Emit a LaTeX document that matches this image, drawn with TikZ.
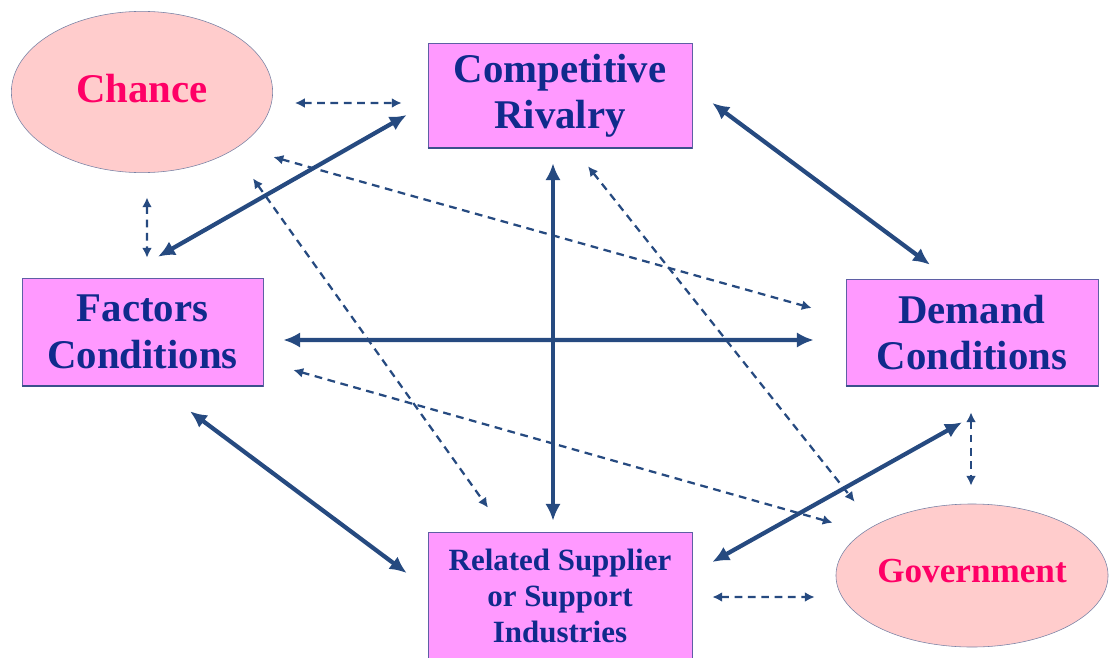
\documentclass[tikz,border=0pt]{standalone}
\usepackage{fontspec}
\setmainfont{Liberation Serif}
\usepackage{xcolor}
\usepackage{tikz}
\usetikzlibrary{shapes.geometric,arrows.meta}

\definecolor{boxfill}{RGB}{255,153,255}
\definecolor{boxline}{RGB}{95,95,165}
\definecolor{boxedge}{RGB}{60,80,140}
\definecolor{ovalfill}{RGB}{255,204,204}
\definecolor{ovalline}{RGB}{120,130,165}
\definecolor{navytext}{RGB}{16,42,140}
\definecolor{redtext}{RGB}{255,0,102}
\definecolor{arrowblue}{RGB}{38,74,128}

\begin{document}
\begin{tikzpicture}[x=0.025cm,y=-0.025cm,
  factor/.style={draw=boxline, fill=boxfill, rectangle, align=center, text=navytext, inner sep=0pt, font=\fontsize{29}{33}\selectfont\bfseries},
  outside/.style={draw=ovalline, fill=ovalfill, ellipse, align=center, text=redtext, inner sep=0pt},
  mainlink/.style={arrowblue, line width=3pt, {Latex[length=12pt,width=11pt]}-{Latex[length=12pt,width=11pt]}},
  sidelink/.style={arrowblue, line width=1.6pt, dash pattern=on 5.5pt off 4pt, {Latex[length=7pt,width=7pt]}-{Latex[length=7pt,width=7pt]}}]
\useasboundingbox (0,0) rectangle (1109,657);

% the four boxes and the two ovals
\node[outside, minimum width=6.53cm, minimum height=4.03cm, text depth=5.7pt, font=\fontsize{29}{33}\selectfont\bfseries] (chance) at (142,92) {Chance};
\node[factor, minimum width=6.6cm, minimum height=2.625cm] (rivalry) at (560,95.5) {Competitive\\Rivalry};
\node[factor, minimum width=6.025cm, minimum height=2.7cm] (factors) at (142.5,332) {Factors\\Conditions};
\node[factor, minimum width=6.3cm, minimum height=2.675cm] (demand) at (972,332.5) {Demand\\Conditions};
\node[factor, minimum width=6.6cm, minimum height=3.2cm, font=\fontsize{22}{25.5}\selectfont\bfseries] (related) at (560,596) {Related Supplier\\or Support\\Industries};
\node[outside, minimum width=6.8cm, minimum height=3.575cm, text depth=7pt, font=\fontsize{25}{30}\selectfont\bfseries] (govt) at (972,575.5) {Government};
\foreach \n in {rivalry,factors,demand,related}
  \draw[boxedge, line width=1.5pt] (\n.south west) -- (\n.south east);

% main links
\draw[mainlink] ([shift={(15.5,-21)}]factors.north) -- ([shift={(-21,19.5)}]rivalry.west);
\draw[mainlink] ([shift={(20,7.5)}]rivalry.east) -- ([shift={(-42,-14)}]demand.north);
\draw[mainlink] ([shift={(20,8)}]factors.east) -- ([shift={(-32,7.5)}]demand.west);
\draw[mainlink] ([shift={(-7,15)}]rivalry.south) -- ([shift={(-7,-11)}]related.north);
\draw[mainlink] ([shift={(47.5,25)}]factors.south) -- ([shift={(-21,-23)}]related.west);
\draw[mainlink] ([shift={(-10,36)}]demand.south) -- ([shift={(20,-34)}]related.east);

% chance and government
\draw[sidelink] ([shift={(22,11)}]chance.east) -- ([shift={(-26,7.5)}]rivalry.west);
\draw[sidelink] ([shift={(5,24.5)}]chance.south) -- ([shift={(4.5,-20)}]factors.north);
\draw[sidelink] ([shift={(-1,26)}]demand.south) -- ([shift={(-1,-18)}]govt.north);
\draw[sidelink] ([shift={(20,1)}]related.east) -- ([shift={(-21,21.5)}]govt.west);
\draw[sidelink] ([shift={(0.5,65)}]chance.east) -- ([shift={(-34,-24.5)}]demand.west);
\draw[sidelink] ([shift={(111,5.5)}]chance.south) -- ([shift={(-72,-24)}]related.north);
\draw[sidelink] ([shift={(28,18)}]rivalry.south) -- ([shift={(-21,-23)}]govt.north west);
\draw[sidelink] ([shift={(30,38)}]factors.east) -- ([shift={(-43,-2)}]govt.north west);
\end{tikzpicture}
\end{document}
